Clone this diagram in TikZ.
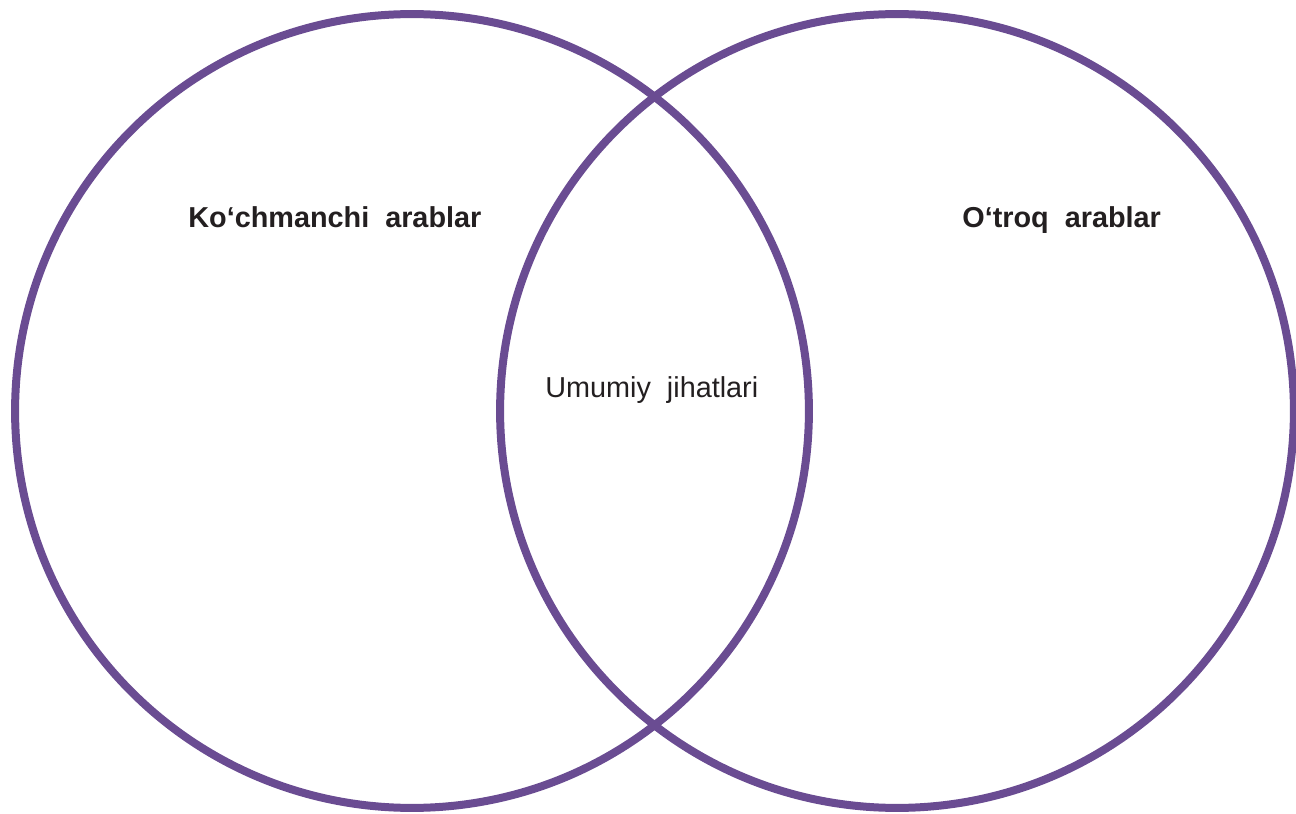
\documentclass[tikz,border=0pt]{standalone}
\usepackage{fontspec}
\setmainfont{Liberation Sans}
\definecolor{vennpurple}{RGB}{106,76,146}
\definecolor{vtext}{RGB}{35,31,32}

\begin{document}
\begin{tikzpicture}
    [   x=0.02cm,y=-0.02cm,
        vcircle/.style={draw=vennpurple,line width=0.16cm,circle,inner sep=0pt,minimum size=15.88cm},
        vlabel/.style={text=vtext,anchor=base west,inner sep=0pt,font=\fontsize{16.4}{19}\selectfont#1},
        vlabel/.default={},
    ]
        \useasboundingbox (0,0) rectangle (1296,814);
        \node[vcircle] (nomad) at (412,411) {};
        \node[vcircle] (settled) at (897,411) {};
        % \node at (654,411) {};
        \node[vlabel=\bfseries] (nomad-t) at (188,227.5) {Ko‘chmanchi~ arablar};
        \node[vlabel=\bfseries] (settled-t) at (962,228) {O‘troq~ arablar};
        \node[vlabel] (common-t) at (545,398) {Umumiy~ jihatlari};
    \end{tikzpicture}
\end{document}
